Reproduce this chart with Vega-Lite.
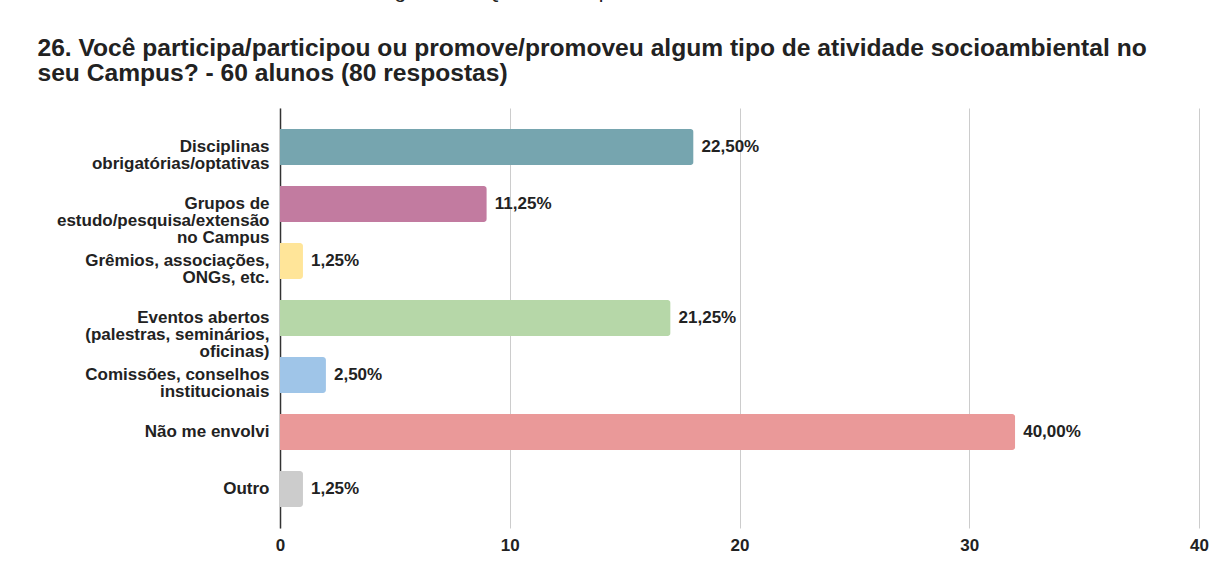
{
  "$schema": "https://vega.github.io/schema/vega-lite/v6.json",
  "width": 919,
  "height": 420,
  "autosize": {"type": "none"},
  "padding": {"left": 280, "top": 108, "right": 19, "bottom": 51},
  "background": "white",
  "title": {
    "text": "Figura 26 - Questão 26 para estudantes",
    "anchor": "start",
    "frame": "group",
    "dx": 97,
    "offset": 33,
    "font": "Liberation Sans",
    "fontSize": 21,
    "fontWeight": "normal",
    "color": "#222222"
  },
  "data": {
    "values": [
      {"categoria": "Disciplinas|obrigatórias/optativas", "respostas": 18, "pct": "22,50%"},
      {"categoria": "Grupos de|estudo/pesquisa/extensão|no Campus", "respostas": 9, "pct": "11,25%"},
      {"categoria": "Grêmios, associações,|ONGs, etc.", "respostas": 1, "pct": "1,25%"},
      {"categoria": "Eventos abertos|(palestras, seminários,|oficinas)", "respostas": 17, "pct": "21,25%"},
      {"categoria": "Comissões, conselhos|institucionais", "respostas": 2, "pct": "2,50%"},
      {"categoria": "Não me envolvi", "respostas": 32, "pct": "40,00%"},
      {"categoria": "Outro", "respostas": 1, "pct": "1,25%"}
    ]
  },
  "encoding": {
    "y": {
      "field": "categoria",
      "type": "nominal",
      "sort": null,
      "scale": {"paddingInner": 0.37, "paddingOuter": 0.37},
      "axis": {
        "title": null,
        "labelExpr": "split(datum.label, '|')",
        "labelFont": "Liberation Sans",
        "labelFontSize": 17,
        "labelFontWeight": "bold",
        "labelColor": "#222222",
        "labelLineHeight": 17,
        "labelPadding": 11,
        "labelLimit": 0,
        "ticks": false,
        "domain": true,
        "domainColor": "#333333",
        "domainWidth": 1.5
      }
    },
    "x": {
      "field": "respostas",
      "type": "quantitative",
      "scale": {"domain": [0, 40], "nice": false},
      "axis": {
        "title": null,
        "values": [0, 10, 20, 30, 40],
        "labelFont": "Liberation Sans",
        "labelFontSize": 17,
        "labelFontWeight": "bold",
        "labelColor": "#222222",
        "labelPadding": 9,
        "labelFlush": false,
        "labelOverlap": false,
        "ticks": false,
        "domain": false,
        "grid": true,
        "gridColor": "#cccccc",
        "gridWidth": 1
      }
    }
  },
  "layer": [
    {
      "mark": {"type": "bar", "cornerRadiusEnd": 3},
      "encoding": {
        "color": {
          "field": "categoria",
          "type": "nominal",
          "legend": null,
          "scale": {
            "domain": ["Disciplinas|obrigatórias/optativas", "Grupos de|estudo/pesquisa/extensão|no Campus", "Grêmios, associações,|ONGs, etc.", "Eventos abertos|(palestras, seminários,|oficinas)", "Comissões, conselhos|institucionais", "Não me envolvi", "Outro"],
            "range": ["#76a5af", "#c27ba0", "#ffe599", "#b6d7a8", "#9fc5e8", "#ea9999", "#cccccc"]
          }
        }
      }
    },
    {
      "mark": {"type": "text", "align": "left", "baseline": "middle", "dx": 8, "font": "Liberation Sans", "fontSize": 17, "fontWeight": "bold", "color": "#222222"},
      "encoding": {
        "text": {"field": "pct"},
        "x": {
          "field": "respostas",
          "type": "quantitative",
          "scale": {"domain": [0, 40], "nice": false},
          "axis": {
            "orient": "top",
            "title": ["26. Você participa/participou ou promove/promoveu algum tipo de atividade socioambiental no", "seu Campus? - 60 alunos (80 respostas)"],
            "titleFont": "Liberation Sans",
            "titleFontSize": 24.6,
            "titleFontWeight": "bold",
            "titleColor": "#222222",
            "titleLineHeight": 25,
            "titleX": -243,
            "titleY": -72,
            "titleAlign": "left",
            "titleBaseline": "top",
            "labels": false,
            "ticks": false,
            "domain": false,
            "grid": false
          }
        }
      }
    }
  ],
  "resolve": {"axis": {"x": "independent"}},
  "config": {"view": {"stroke": null}}
}
